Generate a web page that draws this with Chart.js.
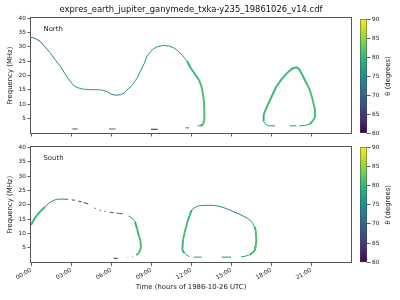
<!DOCTYPE html>
<html>
<head>
<meta charset="utf-8">
<script src="https://cdn.jsdelivr.net/npm/chart.js@4.4.1/dist/chart.umd.min.js"></script>
<style>
  html, body { margin: 0; padding: 0; background: #fff; }
  #wrap { position: relative; width: 400px; height: 300px; overflow: hidden; }
  .box { position: absolute; }
</style>
</head>
<body>
<div id="wrap">
  <div class="box" style="left:0;top:0;width:353px;height:140px"><canvas id="north"></canvas></div>
  <div class="box" style="left:0;top:140px;width:353px;height:160px"><canvas id="south"></canvas></div>
  <div class="box" style="left:355px;top:0;width:45px;height:140px"><canvas id="cbNorth"></canvas></div>
  <div class="box" style="left:355px;top:140px;width:45px;height:160px"><canvas id="cbSouth"></canvas></div>
</div>
<script>
// donnees (null = coupure du trace)
var fileTitle = 'expres_earth_jupiter_ganymede_txka-y235_19861026_v14.cdf';

var hourTicks  = [0, 3, 6, 9, 12, 15, 18, 21];
var timeLabels = ['00:00', '03:00', '06:00', '09:00', '12:00', '15:00', '18:00', '21:00'];
var freqTicks  = [5, 10, 15, 20, 25, 30, 35, 40];
var thetaTicks = [60, 65, 70, 75, 80, 85, 90];

var northHours = [0, 0.3, 0.68, 1.0, 1.43, 1.8, 2.2, 2.5, 2.8, 3.2, 3.5, 3.9, 4.5, 5.0, 5.3, 5.7, 6.0, 6.3, 6.7, 7.0,
  7.2, 7.5, 7.7, 8.0, 8.2, 8.5, 8.7, 9.0, 9.2, 9.5, 9.9, 10.3, 10.7, 11.0, 11.4, 11.7, 12.0, 12.3, 12.6, 12.8,
  12.95, 13.0, 13.0, 12.9, 12.7, 12.5, null,
  3.1, 3.5, null, 5.85, 6.35, null, 9.0, 9.5, null, 11.6, 11.85, null,
  18.3, 17.8, 17.55, 17.4, 17.45, 17.7, 18.0, 18.4, 18.8, 19.2, 19.6, 19.9, 20.1, 20.4, 20.7, 20.9, 21.1, 21.3,
  21.3, 21.1, 20.9, 20.5, 20.1, null, 19.9, 19.4];
var northFreq = [33.4, 33.0, 32.0, 30.3, 28.0, 25.6, 23.3, 21.0, 18.9, 16.5, 15.8, 15.3, 15.1, 15.1, 15.0, 14.4, 13.6, 13.2, 13.3, 14.0,
  15.1, 16.2, 17.4, 19.5, 21.5, 24.3, 26.8, 28.5, 29.4, 30.1, 30.5, 30.4, 29.7, 28.7, 26.9, 25.0, 22.5, 20.5, 18.5, 16.0,
  12.0, 8.0, 4.6, 3.0, 2.5, 2.5, null,
  1.4, 1.4, null, 1.4, 1.4, null, 1.3, 1.3, null, 1.8, 1.8, null,
  2.5, 2.5, 3.2, 4.5, 6.5, 9.2, 12.2, 16.2, 18.8, 20.9, 22.5, 22.9, 22.3, 19.8, 17.0, 15.1, 12.0, 8.1,
  5.5, 4.0, 3.1, 2.6, 2.5, null, 2.5, 2.5];
var northTheta = [71, 70, 70, 72, 73, 74, 74, 74, 75, 76, 76, 77, 77, 77, 75, 73, 72, 72, 74, 77,
  78, 78, 77, 76, 76, 75, 75, 75, 75, 75, 75, 76, 77, 77, 78, 79, 80, 80, 81, 81,
  81, 81, 81, 79, 77, 76, null,
  68, 68, null, 72, 72, null, 61, 61, null, 70, 70, null,
  76, 77, 78, 79, 80, 80, 80, 80, 80, 80, 80, 80, 80, 80, 81, 81, 81, 81,
  81, 80, 78, 77, 76, null, 75, 75];

var southHours = [0, 0.3, 0.68, 1.05, 1.43, 1.9, 2.4, 2.8, null, 3.05, 3.3, null, 3.55, 3.8, null, 3.95, 4.3, null,
  4.75, 4.85, null, 5.15, 5.25, null, 5.5, 5.6, null, 5.9, 6.2, null, 6.4, 6.9, null,
  7.3, 7.4, 7.6, 7.8, 7.95, 8.1, 8.2, 8.25, 8.2, 8.05, 7.9, null, 7.65, 7.6, null, 7.3, 7.25, null, 6.2, 6.5, null,
  11.9, 11.7, 11.5, 11.35, 11.4, 11.55, 11.7, 11.9, 12.05, 12.3, 12.55, 12.9, 13.3, 13.7, 14.1, 14.4, 14.8, 15.2,
  15.6, 15.9, 16.25, 16.55, 16.75, 16.85, 16.9, 16.85, 16.8, 16.6, 16.4, 16.05, 15.75, null,
  15.0, 14.3, null, 12.8, 12.2];
var southFreq = [13.0, 15.5, 17.6, 19.3, 20.9, 21.9, 22.0, 21.9, null, 21.7, 21.6, null, 21.3, 21.0, null, 20.8, 20.3, null,
  18.9, 18.7, null, 18.2, 18.0, null, 17.8, 17.7, null, 17.4, 17.3, null, 17.1, 16.9, null,
  16.1, 15.9, 15.3, 14.1, 11.8, 9.0, 7.8, 5.5, 4.3, 3.1, 2.5, null, 1.9, 1.9, null, 1.7, 1.7, null, 1.4, 1.4, null,
  1.9, 2.5, 3.2, 4.3, 7.8, 10.8, 13.6, 16.3, 18.2, 19.1, 19.6, 19.8, 19.8, 19.8, 19.5, 19.1, 18.4, 17.6,
  16.8, 16.1, 15.3, 14.1, 12.5, 11.2, 7.8, 5.5, 4.3, 3.2, 2.6, 2.1, 1.9, null,
  1.8, 1.8, null, 1.8, 1.8];
var southTheta = [80, 80, 79, 77, 76, 74, 72, 71, null, 66, 65, null, 64, 64, null, 65, 65, null,
  67, 67, null, 68, 68, null, 68, 68, null, 69, 69, null, 71, 72, null,
  74, 75, 77, 79, 80, 81, 81, 81, 81, 80, 79, null, 76, 76, null, 75, 75, null, 62, 62, null,
  77, 78, 79, 80, 81, 81, 80, 79, 77, 76, 75, 75, 75, 74, 74, 74, 73, 73,
  73, 74, 76, 78, 80, 81, 81, 81, 81, 80, 78, 77, 76, null,
  75, 75, null, 75, 75];

var thetaMin = 60, thetaMax = 90;

// palette viridis (echantillons reguliers)
var viridisStops = ['#440154', '#482878', '#3e4989', '#31688e', '#26828e', '#1f9e89', '#35b779', '#6ece58', '#b5de2b', '#fde725'];

function hexRgb(h) {
  return [parseInt(h.substr(1, 2), 16), parseInt(h.substr(3, 2), 16), parseInt(h.substr(5, 2), 16)];
}

function viridis(theta) {
  var t = (theta - thetaMin) / (thetaMax - thetaMin);
  t = Math.max(0, Math.min(1, t));
  var n = viridisStops.length - 1;
  var i = Math.min(n - 1, Math.floor(t * n));
  var f = t * n - i;
  var a = hexRgb(viridisStops[i]), b = hexRgb(viridisStops[i + 1]);
  return 'rgb(' + [0, 1, 2].map(function(k) { return Math.round(a[k] + (b[k] - a[k]) * f); }).join(',') + ')';
}

Chart.defaults.font.family = '"DejaVu Sans", sans-serif';
Chart.defaults.color = '#222';

// cadre des axes
var framePlugin = {
  id: 'frame',
  afterDatasetsDraw: function(chart) {
    var a = chart.chartArea, ctx = chart.ctx;
    ctx.save();
    ctx.strokeStyle = '#555';
    ctx.lineWidth = 1;
    ctx.strokeRect(Math.round(a.left) - 0.5, Math.round(a.top) - 0.5, Math.round(a.right - a.left) + 1, Math.round(a.bottom - a.top) + 1);
    ctx.restore();
  }
};

// texte North / South dans le coin
var cornerPlugin = {
  id: 'corner',
  afterDraw: function(chart, args, opts) {
    var a = chart.chartArea, ctx = chart.ctx;
    ctx.save();
    ctx.font = '6.9px "DejaVu Sans"';
    ctx.fillStyle = '#222';
    ctx.textBaseline = 'middle';
    ctx.fillText(opts.text, a.left + 12.5, a.top + 10.6);
    ctx.restore();
  }
};

// titre de la barre de couleur, tourne vers le haut
var cbLabelPlugin = {
  id: 'cbLabel',
  afterDraw: function(chart, args, opts) {
    var a = chart.chartArea, ctx = chart.ctx;
    ctx.save();
    ctx.font = '6.9px "DejaVu Sans"';
    ctx.fillStyle = '#222';
    ctx.textAlign = 'center';
    ctx.textBaseline = 'middle';
    ctx.translate(a.right + 21, (a.top + a.bottom) / 2);
    ctx.rotate(-Math.PI / 2);
    ctx.fillText(opts.text, 0, 0);
    ctx.restore();
  }
};

function makePanel(id, hours, freq, theta, label, isBottom) {
  var pts = hours.map(function(h, i) { return { x: h === null ? NaN : h, y: freq[i] === null ? NaN : freq[i] }; });
  return new Chart(document.getElementById(id), {
    type: 'scatter',
    data: {
      datasets: [{
        data: pts,
        showLine: true,
        spanGaps: false,
        pointRadius: 0,
        borderWidth: 1,
        borderColor: '#1f9e89',
        segment: {
          borderColor: function(c) { return viridis(theta[c.p0DataIndex]); },
          // les parties vertes (points serres) paraissent plus epaisses
          borderWidth: function(c) {
            var dx = Math.abs(c.p1.x - c.p0.x), dy = Math.abs(c.p1.y - c.p0.y);
            return (dy > 4 * dx || theta[c.p0DataIndex] >= 79) ? 1.9 : 1;
          }
        }
      }]
    },
    options: {
      responsive: true,
      maintainAspectRatio: false,
      animation: false,
      layout: { padding: { top: isBottom ? 7.3 : 0, right: 2, left: 0, bottom: 0 } },
      plugins: {
        legend: { display: false },
        tooltip: { enabled: false },
        title: {
          display: !isBottom,
          text: fileTitle,
          fullSize: false,
          color: '#111',
          font: { size: 8.4, weight: 'normal' },
          padding: { top: 4.6, bottom: 3.6 }
        },
        corner: { text: label }
      },
      scales: {
        x: {
          type: 'linear',
          min: 0,
          max: 24,
          afterBuildTicks: function(s) { s.ticks = hourTicks.map(function(v) { return { value: v }; }); },
          ticks: {
            display: isBottom,
            autoSkip: false,
            minRotation: 30,
            maxRotation: 30,
            padding: 1,
            font: { size: 5.8 },
            callback: function(v, i) { return timeLabels[i]; }
          },
          grid: { display: true, drawOnChartArea: false, drawTicks: true, tickLength: 3.5, color: '#333', lineWidth: 0.8 },
          border: { display: false },
          title: {
            display: isBottom,
            text: 'Time (hours of 1986-10-26 UTC)',
            font: { size: 6.9 },
            padding: { top: 0, bottom: 8.8 }
          },
          afterFit: function(s) { s.height = isBottom ? 37.7 : 7; }
        },
        y: {
          type: 'linear',
          min: 0,
          max: 40,
          afterBuildTicks: function(s) { s.ticks = freqTicks.map(function(v) { return { value: v }; }); },
          ticks: { padding: 1.5, font: { size: 5.8 } },
          grid: { display: true, drawOnChartArea: false, drawTicks: true, tickLength: 3.5, color: '#333', lineWidth: 0.8 },
          border: { display: false },
          title: { display: true, text: 'Frequency (MHz)', font: { size: 6.9 }, padding: { top: 5.9, bottom: 0 } },
          afterFit: function(s) { s.width = 31; }
        }
      }
    },
    plugins: [framePlugin, cornerPlugin]
  });
}

function makeColorbar(id, padTop, padBottom) {
  return new Chart(document.getElementById(id), {
    type: 'bar',
    data: {
      labels: ['θ'],
      datasets: [{
        data: [[thetaMin, thetaMax]],
        backgroundColor: function(c) {
          var a = c.chart.chartArea;
          if (!a) return viridis(75);
          var g = c.chart.ctx.createLinearGradient(0, a.bottom, 0, a.top);
          viridisStops.forEach(function(s, i) { g.addColorStop(i / (viridisStops.length - 1), s); });
          return g;
        },
        borderColor: '#444',
        borderWidth: 0.8,
        borderSkipped: false,
        barPercentage: 1,
        categoryPercentage: 1
      }]
    },
    options: {
      responsive: true,
      maintainAspectRatio: false,
      animation: false,
      layout: { padding: { left: 5, top: padTop, bottom: padBottom, right: 0 } },
      plugins: {
        legend: { display: false },
        tooltip: { enabled: false },
        cbLabel: { text: 'θ (degrees)' }
      },
      scales: {
        x: { display: false },
        y: {
          position: 'right',
          min: thetaMin,
          max: thetaMax,
          afterBuildTicks: function(s) { s.ticks = thetaTicks.map(function(v) { return { value: v }; }); },
          ticks: { padding: 1.5, font: { size: 5.8 } },
          grid: { display: true, drawOnChartArea: false, drawTicks: true, tickLength: 3.5, color: '#333', lineWidth: 0.8 },
          border: { display: false },
          afterFit: function(s) { s.width = 33; }
        }
      }
    },
    plugins: [cbLabelPlugin]
  });
}

makePanel('north', northHours, northFreq, northTheta, 'North', false);
makePanel('south', southHours, southFreq, southTheta, 'South', true);
makeColorbar('cbNorth', 19, 7);
makeColorbar('cbSouth', 7.3, 37.7);
</script>
</body>
</html>
